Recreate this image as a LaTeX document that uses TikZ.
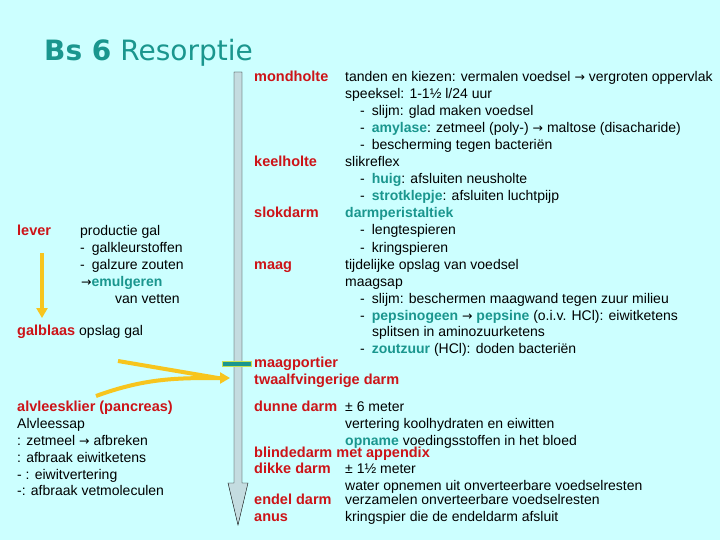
\documentclass[tikz,border=0pt]{standalone}
\usepackage{fontspec}
\setmainfont{Liberation Sans}
\newfontfamily\titlefont{DejaVu Sans}
\newfontfamily\symfont{DejaVu Sans}
\usetikzlibrary{arrows.meta,positioning}
\definecolor{bgcyan}{HTML}{CCFFFF}
\definecolor{organred}{HTML}{CC1418}
\definecolor{termteal}{HTML}{1A968E}
\definecolor{guttube}{HTML}{C4DCE0}
\definecolor{galyellow}{HTML}{F7C51E}
\definecolor{barrim}{HTML}{C8E050}
\newcommand{\term}[1]{\textcolor{termteal}{\textbf{#1}}}
\newcommand{\toarr}{{\symfont\fontsize{12.5}{14}\selectfont →}}
\tikzset{
    organ/.style={
        anchor=base west,inner sep=0pt,
        text=organred,
        font=\fontsize{14.5}{16}\selectfont\bfseries
    },
    desc/.style={
        anchor=base west,inner sep=0pt,
        font=\fontsize{14}{16}\selectfont
    },
    galarrow/.style={
        galyellow,line width=4pt,
        -{Triangle[width=11pt,length=10pt]}
    }
}
\begin{document}
\begin{tikzpicture}[x=1pt,y=-1pt]
\useasboundingbox (0,0) rectangle (720,540);
\fill[bgcyan] (0,0) rectangle (720,540);
% title
\node[anchor=base west,inner sep=0pt,text=termteal,font=\titlefont\fontsize{28}{31}\selectfont] (title) at (44,61) {\textbf{Bs 6} Resorptie};
% gut tube
\draw[fill=guttube,thin] (234,72) -- (242,72) -- (242,483) -- (248,483) -- (238,525) -- (228,483) -- (234,483) -- cycle;
\node[draw=barrim,fill=termteal,inner sep=0pt,minimum width=29pt,minimum height=5pt] (portier) at (237,363.5) {};
% organs along the tube
\node[organ] (mondholte) at (254,82) {mondholte};
\node[organ] (keelholte) at (254,167) {keelholte};
\node[organ] (slokdarm) at (254,218) {slokdarm};
\node[organ] (maag) at (254,269) {maag};
\node[organ] (maagportier) at (254,367) {maagportier};
\node[organ] (duodenum) at (254,384) {twaalfvingerige darm};
\node[organ] (dunnedarm) at (254,411) {dunne darm};
\node[organ] (blindedarm) at (254,457) {blindedarm met appendix};
\node[organ] (dikkedarm) at (254,473) {dikke darm};
\node[organ] (endeldarm) at (254,504) {endel darm};
\node[organ] (anus) at (254,521) {anus};
% descriptions
\foreach \y/\x/\txt [count=\n] in {
    82/345/{tanden en kiezen: vermalen voedsel \toarr\ vergroten oppervlak},
    99/345/{speeksel: 1-1½ l/24 uur},
    116/360/{-\enspace slijm: glad maken voedsel},
    133/360/{-\enspace\term{amylase}: zetmeel (poly-) \toarr\ maltose (disacharide)},
    150/360/{-\enspace bescherming tegen bacteriën},
    167/345/{slikreflex},
    184/360/{-\enspace\term{huig}: afsluiten neusholte},
    201/360/{-\enspace\term{strotklepje}: afsluiten luchtpijp},
    218/345/{\term{darmperistaltiek}},
    235/360/{-\enspace lengtespieren},
    252/360/{-\enspace kringspieren},
    269/345/{tijdelijke opslag van voedsel},
    286/345/{maagsap},
    303/360/{-\enspace slijm: beschermen maagwand tegen zuur milieu},
    320/360/{-\enspace\term{pepsinogeen} \toarr\ \term{pepsine} (o.i.v. HCl): eiwitketens},
    336/372/{splitsen in aminozuurketens},
    353/360/{-\enspace\term{zoutzuur} (HCl): doden bacteriën},
    411/345/{± 6 meter},
    428/345/{vertering koolhydraten en eiwitten},
    445/345/{\term{opname} voedingsstoffen in het bloed},
    473/345/{± 1½ meter},
    490/345/{water opnemen uit onverteerbare voedselresten},
    504/345/{verzamelen onverteerbare voedselresten},
    521/345/{kringspier die de endeldarm afsluit}}
    \node[desc] (desc\n) at (\x,\y) {\txt};
% liver, gall bladder, pancreas
\node[organ] (lever) at (17,236) {lever};
\node[organ] (galblaas) at (17,335) {galblaas};
\node[organ] (alvleesklier) at (17,411) {alvleesklier (pancreas)};
\foreach \y/\x/\txt [count=\n] in {
    236/80/{productie gal},
    252/80/{-\enspace galkleurstoffen},
    269/80/{-\enspace galzure zouten},
    286/81/{\toarr\term{emulgeren}},
    303/115/{van vetten},
    335/79/{opslag gal},
    428/17/{Alvleessap},
    445/17/{: zetmeel \toarr\ afbreken},
    462/17/{: afbraak eiwitketens},
    479/17/{- : eiwitvertering},
    495/17/{-: afbraak vetmoleculen}}
    \node[desc] (side\n) at (\x,\y) {\txt};
% bile and pancreatic juice
\coordinate (galtop) at (42,253);
\coordinate (galbot) at (42,318);
\coordinate (galout) at (118,361);
\coordinate (pancout) at (96,396);
\coordinate (inlet) at (230,378);
\draw[galarrow] (galtop) -- (galbot);
\draw[galyellow,line width=4pt] (galout) -- ([xshift=-12pt]inlet);
\draw[galarrow] (pancout) to[out=20,in=180] (inlet);
\end{tikzpicture}
\end{document}
